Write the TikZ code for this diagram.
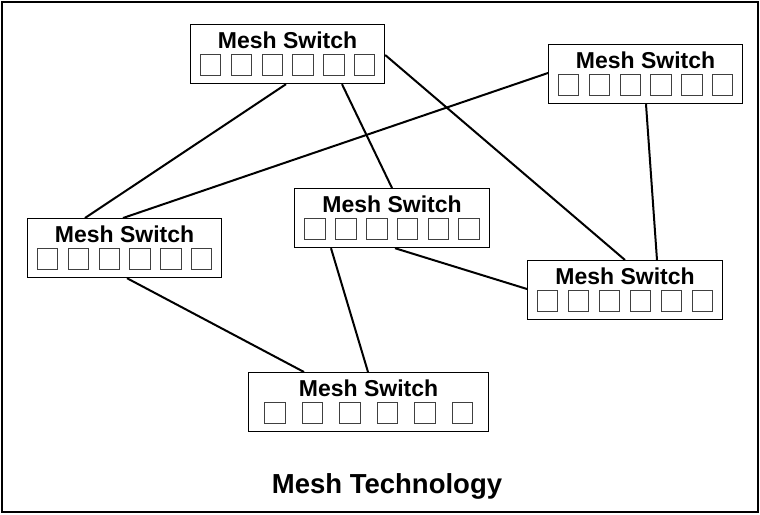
\documentclass[tikz,border=0pt]{standalone}
\usepackage{fontspec}
\setmainfont{Liberation Sans}
\usetikzlibrary{positioning}
% one switch: name, x, y (top left), width, port pitch
\newcommand{\meshswitch}[5]{%
  \node[switch_box, minimum width=#4pt] (#1) at (#2,#3) {};
  \node[switch_label] at ([yshift=-24pt]#1.north) {Mesh Switch};
  \foreach \p in {0,...,5}
    \node[port] at ([xshift={(\p-2.5)*#5}, yshift=-41pt]#1.north) {};
}

\begin{document}
\begin{tikzpicture}[x=1pt, y=-1pt,
  switch_box/.style={rectangle, draw=black, line width=1.2pt, fill=white, anchor=north west, minimum height=59pt, inner sep=0pt},
  switch_label/.style={anchor=base, inner sep=0pt, font=\bfseries\fontsize{23}{27}\selectfont},
  port/.style={rectangle, draw=black!75, line width=0.8pt, minimum size=20.5pt, inner sep=0pt},
  link/.style={line width=2pt},
  title_text/.style={anchor=base, inner sep=0pt, font=\bfseries\fontsize{27.5}{32}\selectfont}]
    \useasboundingbox (0,0) rectangle (760,514);
    \draw[line width=2pt] (2,2) rectangle (758,512);

    \meshswitch{sw1}{190}{24}{194}{30.8}
    \meshswitch{sw2}{548}{44}{194}{30.8}
    \meshswitch{sw3}{27}{218}{194}{30.8}
    \meshswitch{sw4}{294}{188}{195}{30.8}
    \meshswitch{sw5}{527}{260}{195}{31}
    \meshswitch{sw6}{248}{372}{240}{37.5}

    \draw[link] ([xshift=96pt]sw1.south west) -- ([xshift=58pt]sw3.north west);
    \draw[link] ([xshift=152pt]sw1.south west) -- ([xshift=98pt]sw4.north west);
    \draw[link] ([yshift=-31pt]sw1.north east) -- ([xshift=98pt]sw5.north west);
    \draw[link] ([yshift=-29pt]sw2.north west) -- ([xshift=96pt]sw3.north west);
    \draw[link] ([xshift=98pt]sw2.south west) -- ([xshift=130pt]sw5.north west);
    \draw[link] ([xshift=101pt]sw4.south west) -- ([yshift=-29pt]sw5.north west);
    \draw[link] ([xshift=37pt]sw4.south west) -- ([xshift=120pt]sw6.north west);
    \draw[link] ([xshift=100pt]sw3.south west) -- ([xshift=56pt]sw6.north west);

    \node[title_text] (title) at (387,493) {Mesh Technology};
\end{tikzpicture}
\end{document}
